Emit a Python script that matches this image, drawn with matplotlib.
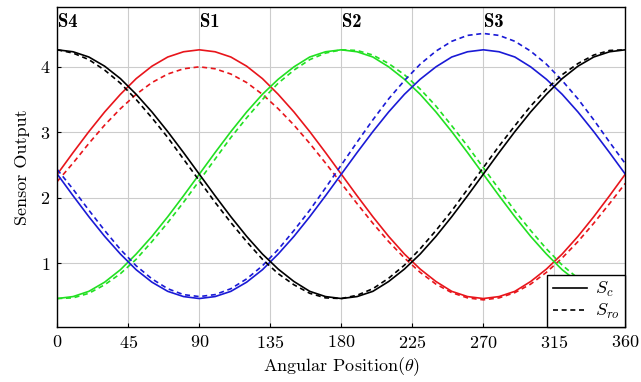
import matplotlib.pyplot as plt

plt.rcParams['font.family'] = 'cmr10'
plt.rcParams['mathtext.fontset'] = 'cm'
plt.rcParams['axes.formatter.use_mathtext'] = True

# angular position (deg), sampled every 10 degrees
theta = list(range(0, 361, 10))

# S_c (solid)
s1_c = [2.36, 2.69, 3.01, 3.31, 3.58, 3.82, 4.01, 4.15, 4.23, 4.26, 4.23, 4.15, 4.01, 3.82, 3.58, 3.31, 3.01, 2.69,
        2.36, 2.03, 1.71, 1.41, 1.14, 0.91, 0.72, 0.57, 0.49, 0.46, 0.49, 0.57, 0.72, 0.91, 1.14, 1.41, 1.71, 2.03, 2.36]
s2_c = [0.46, 0.49, 0.57, 0.71, 0.90, 1.14, 1.41, 1.71, 2.03, 2.36, 2.69, 3.01, 3.31, 3.58, 3.81, 4.00, 4.15, 4.23,
        4.26, 4.23, 4.15, 4.00, 3.81, 3.58, 3.31, 3.01, 2.69, 2.36, 2.03, 1.71, 1.41, 1.14, 0.90, 0.71, 0.57, 0.49, 0.46]
s3_c = [2.36, 2.03, 1.71, 1.41, 1.14, 0.90, 0.71, 0.57, 0.49, 0.46, 0.49, 0.57, 0.71, 0.90, 1.14, 1.41, 1.71, 2.03,
        2.36, 2.69, 3.01, 3.31, 3.58, 3.81, 4.00, 4.15, 4.23, 4.26, 4.23, 4.15, 4.00, 3.81, 3.58, 3.31, 3.01, 2.69, 2.36]
s4_c = [4.26, 4.23, 4.15, 4.01, 3.82, 3.58, 3.31, 3.01, 2.69, 2.36, 2.03, 1.71, 1.41, 1.14, 0.91, 0.72, 0.57, 0.49,
        0.46, 0.49, 0.57, 0.72, 0.91, 1.14, 1.41, 1.71, 2.03, 2.36, 2.69, 3.01, 3.31, 3.58, 3.82, 4.01, 4.15, 4.23, 4.26]

# S_ro (dashed)
s1_ro = [2.25, 2.53, 2.83, 3.11, 3.36, 3.58, 3.76, 3.89, 3.97, 4.00, 3.97, 3.89, 3.76, 3.58, 3.36, 3.11, 2.83, 2.53,
         2.22, 1.91, 1.61, 1.33, 1.08, 0.86, 0.68, 0.55, 0.47, 0.44, 0.47, 0.55, 0.68, 0.86, 1.08, 1.33, 1.61, 1.91, 2.22]
s2_ro = [0.46, 0.47, 0.54, 0.67, 0.84, 1.06, 1.33, 1.62, 1.93, 2.26, 2.59, 2.92, 3.22, 3.50, 3.75, 3.95, 4.11, 4.21,
         4.26, 4.25, 4.18, 4.05, 3.88, 3.66, 3.40, 3.10, 2.79, 2.46, 2.13, 1.80, 1.50, 1.22, 0.97, 0.77, 0.61, 0.51, 0.46]
s3_ro = [2.43, 2.13, 1.81, 1.50, 1.21, 0.96, 0.76, 0.61, 0.52, 0.49, 0.52, 0.61, 0.76, 0.96, 1.21, 1.50, 1.81, 2.15,
         2.50, 2.85, 3.19, 3.51, 3.79, 4.04, 4.24, 4.39, 4.48, 4.51, 4.48, 4.39, 4.24, 4.04, 3.79, 3.51, 3.19, 2.85, 2.52]
s4_ro = [4.26, 4.21, 4.11, 3.95, 3.75, 3.50, 3.22, 2.92, 2.59, 2.26, 1.93, 1.62, 1.33, 1.06, 0.84, 0.67, 0.54, 0.47,
         0.46, 0.51, 0.61, 0.77, 0.97, 1.22, 1.50, 1.80, 2.13, 2.46, 2.79, 3.10, 3.40, 3.66, 3.88, 4.05, 4.18, 4.25, 4.26]

sensor_names = ['S1', 'S2', 'S3', 'S4']
sensor_peaks = [90, 180, 270, 0]
colors = ['#e8151b', '#22e022', '#1a1ad6', 'black']

fig = plt.figure(figsize=(6.41, 3.82), dpi=100)
ax = fig.add_axes([0.0894, 0.1448, 0.8861, 0.8362])

dash = (0, (3, 2.2))
for c_vals, ro_vals, col in zip([s1_c, s2_c, s3_c, s4_c], [s1_ro, s2_ro, s3_ro, s4_ro], colors):
    ax.plot(theta, c_vals, color=col, lw=1.2)
    ax.plot(theta, ro_vals, color=col, lw=1.2, linestyle=dash)

for name, pk in zip(sensor_names, sensor_peaks):
    ax.text(pk + 0.3, 4.68, name, fontfamily='cmb10', fontsize=13.5, ha='left', va='center')

ax.set_xlim(0, 360)
ax.set_ylim(0.03, 4.91)
ax.set_xticks([0, 45, 90, 135, 180, 225, 270, 315, 360])
ax.set_yticks([1, 2, 3, 4])
ax.grid(True, color='#cccccc', lw=0.8)
ax.set_axisbelow(True)
ax.tick_params(direction='in', length=3, labelsize=13, colors='black', pad=5)
for sp in ax.spines.values():
    sp.set_linewidth(1.0)

ax.set_xlabel(r'Angular Position($\theta$)', fontsize=13, labelpad=3)
ax.set_ylabel('Sensor Output', fontsize=13, labelpad=7)

h1, = ax.plot([], [], color='black', lw=1.2)
h2, = ax.plot([], [], color='black', lw=1.2, linestyle=dash)
leg = ax.legend([h1, h2], [r'$S_c$', r'$S_{ro}$'], loc='lower right', fontsize=13,
                frameon=True, fancybox=False, borderaxespad=0, handlelength=1.9,
                handletextpad=0.45, borderpad=0.3, labelspacing=0.15)
leg.get_frame().set_edgecolor('black')
leg.get_frame().set_linewidth(1.0)
leg.get_frame().set_alpha(1)
leg.set_zorder(5)

fig.savefig('out.png', dpi=100)
